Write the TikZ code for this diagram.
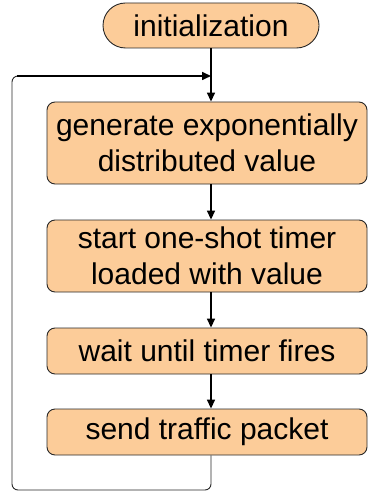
\documentclass[tikz,border=0pt]{standalone}
\usepackage{fontspec}
\setmainfont{Liberation Sans}
\usetikzlibrary{arrows.meta,calc}
\definecolor{peach}{RGB}{252,204,153}
\definecolor{edge}{RGB}{40,40,40}
\begin{document}
\begin{tikzpicture}[x=1pt,y=-1pt,
  stepbox/.style={draw=edge,line width=0.9pt,fill=peach,rounded corners=8pt,
    minimum width=320pt,align=center,inner sep=0pt,
    font=\fontsize{30}{36.5}\selectfont},
  startbox/.style={draw=edge,line width=0.9pt,fill=peach,rounded corners=22.5pt,
    minimum width=216pt,minimum height=45pt,inner sep=0pt,
    font=\fontsize{30}{36.5}\selectfont},
  arr/.style={line width=1.6pt,-{Triangle[length=9pt,width=8pt]}},
  loopline/.style={draw=edge,line width=0.9pt,rounded corners=6pt}]
\useasboundingbox (0,0) rectangle (368,494);
\node[startbox] (init) at (211,25.5) {initialization};
\node[stepbox,minimum height=82pt] (b1) at (207,143) {generate exponentially\\distributed value};
\node[stepbox,minimum height=72pt] (b2) at (207,256) {start one-shot timer\\loaded with value};
\node[stepbox,minimum height=46pt] (b3) at (207,351) {wait until timer fires};
\node[stepbox,minimum height=46pt] (b4) at (207,432) {send traffic packet};
\coordinate (m) at (init.south |- 0,76);
\coordinate (bl) at (12,490);
\draw[arr] (init.south) -- (init.south |- b1.north);
\draw[arr] (init.south |- b1.south) -- (init.south |- b2.north);
\draw[arr] (init.south |- b2.south) -- (init.south |- b3.north);
\draw[arr] (init.south |- b3.south) -- (init.south |- b4.north);
\draw[loopline] (init.south |- b4.south) -- (init.south |- bl) -- (bl) -- (bl |- m) -- ($(bl |- m)+(8,0)$);
\draw[arr] ($(bl |- m)+(5,0)$) -- (m);
\end{tikzpicture}
\end{document}
